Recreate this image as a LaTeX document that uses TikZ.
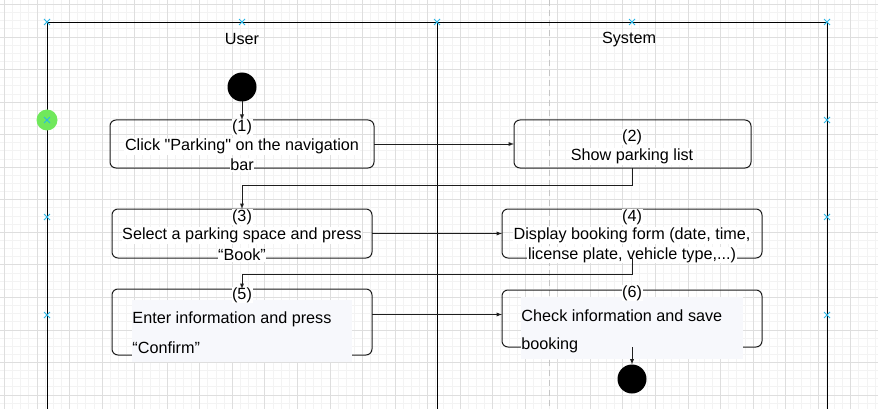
\documentclass[tikz,border=0pt]{standalone}
\usepackage{fontspec}
\setmainfont{Liberation Sans}[Ligatures=TeXOff]
\usetikzlibrary{arrows}

\definecolor{gridmin}{RGB}{243,243,243}
\definecolor{gridmaj}{RGB}{222,222,222}
\definecolor{xcyan}{RGB}{41,182,230}
\definecolor{lime}{RGB}{112,232,92}
\definecolor{lightbg}{RGB}{247,248,252}
\definecolor{edge}{RGB}{30,30,30}

\tikzset{
	box/.style={draw=edge, line width=1pt, rounded corners=6pt, inner sep=0pt, outer sep=0pt},
	txt/.style={fill=white, inner sep=0.6pt},
	lane/.style={draw=black, line width=0.9pt},
	dot/.style={circle, fill=black, minimum size=29pt, inner sep=0pt, outer sep=0pt}
}

\begin{document}
\begin{tikzpicture}[x=1pt,y=-1pt,>=latex,line width=0.9pt,every node/.style={font=\fontsize{16.2}{19}\selectfont}]
			\useasboundingbox (0,0) rectangle (878,409);

			% grid
			\foreach \i in {0,...,108}
			\draw[color=gridmin,line width=0.6pt] (4.3+\i*8.1375-8.1375,0) -- ++(0,409);
			\foreach \i in {0,...,51}
			\draw[color=gridmin,line width=0.6pt] (0,4.3+\i*8.1375-8.1375) -- ++(878,0);
			\foreach \i in {0,...,26}
			\draw[color=gridmaj,line width=0.6pt] (4.3+\i*32.55,0) -- ++(0,409);
			\foreach \i in {0,...,12}
			\draw[color=gridmaj,line width=0.6pt] (0,4.3+\i*32.55) -- ++(878,0);
			\draw[color=gray!45,line width=0.8pt,dash pattern=on 6pt off 4pt] (549,0) -- (549,409);

			% lanes
			\draw[lane] (47,409) -- (47,22) -- (827,22) -- (827,409);
			\draw[lane] (437,22) -- (437,409);
			\node (u) at (242,39) {User};
			\node (sy) at (629,40) {System};

			\node[dot] (0) at (242,87) {};
			\node[dot] (7) at (632,379) {};

			\node[box, minimum width=264pt, minimum height=48pt] (1) at (242,144) {};
			\node[box, minimum width=237pt, minimum height=48pt] (2) at (632.5,144) {};
			\node[box, minimum width=260pt, minimum height=49pt] (3) at (242,233.5) {};
			\node[box, minimum width=260pt, minimum height=49pt] (4) at (632,233.5) {};
			\node[box, minimum width=260pt, minimum height=66pt] (5) at (242,322) {};
			\node[box, minimum width=260pt, minimum height=57pt] (6) at (632,318.5) {};

			\fill[color=lightbg] (132,300) rectangle (352,362);
			\fill[color=lightbg] (521,297) rectangle (743,359);

			\node[txt] (1a) at (242,127) {(1)};
			\node[txt] (1b) at (242,146.5) {Click "Parking" on the navigation};
			\node[txt] (1c) at (242,165) {bar};

			\node[txt] (2a) at (632,137) {(2)};
			\node[txt] (2b) at (632,156.5) {Show parking list};

			\node[txt] (3a) at (242,217) {(3)};
			\node[txt] (3b) at (242,235.5) {Select a parking space and press};
			\node[txt] (3c) at (242,255) {“Book”};

			\node[txt] (4a) at (632,217) {(4)};
			\node[txt] (4b) at (632,235.5) {Display booking form (date, time,};
			\node[txt] (4c) at (632,255) {license plate, vehicle type,...)};

			\node[txt] (5a) at (242,295) {(5)};
			\node[anchor=west,inner sep=0pt] (5b) at (132,319) {Enter information and press};
			\node[anchor=west,inner sep=0pt] (5c) at (132,348) {“Confirm”};

			\node[txt] (6a) at (632,293) {(6)};
			\node[anchor=west,inner sep=0pt] (6b) at (521,316) {Check information and save};
			\node[anchor=west,inner sep=0pt] (6c) at (521,345) {booking};

			\draw[->,color=edge] (0) -- (1);
			\draw[->,color=edge] (1) -- (2);
			\draw[->,color=edge] (2.south) -- ++(0,17) -| (3.north);
			\draw[->,color=edge] (3) -- (4);
			\draw[->,color=edge] (4.south) -- ++(0,16) -| (5.north);
			\draw[->,color=edge] ([yshift=4pt]6.west -| 5.east) -- ([yshift=4pt]6.west);
			\draw[->,color=edge] (6.south) -- (7);

			% editor marks
			\fill[color=lime] (47,120) circle (10.5);
			\foreach \p in {(47,22),(242,22),(437,22),(632,22),(827,22),(47,120),(827,120),(47,217),(827,217),(47,315),(827,315)}
			\draw[color=xcyan,line width=0.8pt] \p +(-3,-3) -- +(3,3) \p +(-3,3) -- +(3,-3);
		\end{tikzpicture}
\end{document}
